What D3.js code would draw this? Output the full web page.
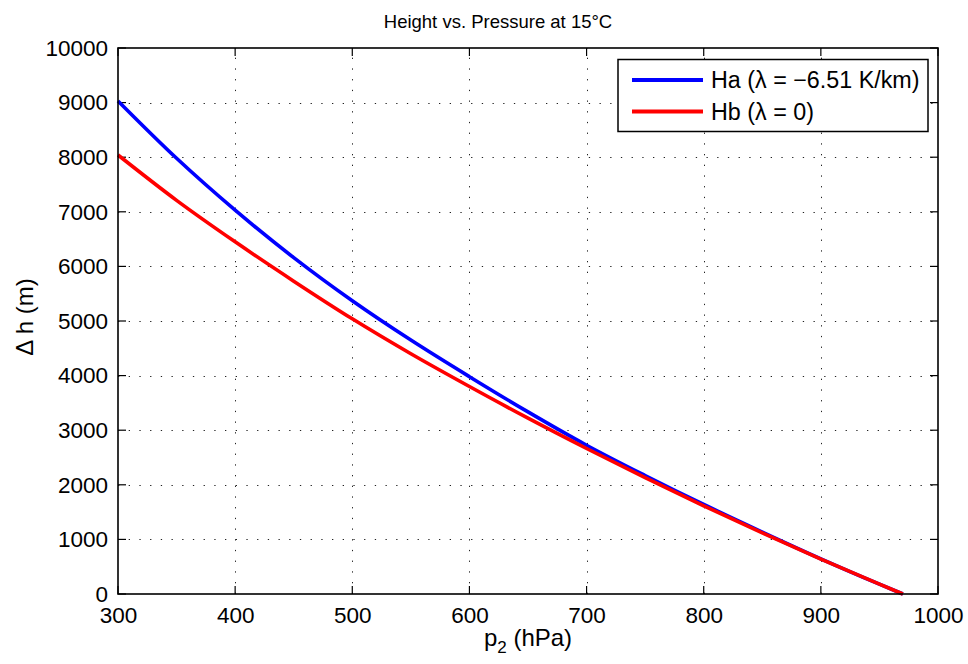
<!DOCTYPE html>
<html>
<head>
<meta charset="utf-8">
<script src="https://cdn.jsdelivr.net/npm/d3@7"></script>
<style>
body{margin:0;background:#fff;}
svg{display:block;font-family:"Liberation Sans",Arial,Helvetica,sans-serif;}
</style>
</head>
<body>
<svg id="chart" width="968" height="664"></svg>
<script>
const pressure = [300,350,400,450,500,550,600,650,700,750,800,850,900,950,970];
const haValues = [9030,7980,7030,6160,5370,4650,3980,3335,2725,2170,1640,1135,645,180,0];
const hbValues = [8040,7210,6450,5730,5040,4400,3800,3220,2665,2130,1615,1120,640,180,0];
const xTicks = [300,400,500,600,700,800,900,1000];
const yTicks = [0,1000,2000,3000,4000,5000,6000,7000,8000,9000,10000];
const seriesNames = ["Ha (\u03BB = \u22126.51 K/km)", "Hb (\u03BB = 0)"];
const seriesColors = ["#0000ff", "#ff0000"];

const svg = d3.select("#chart");
const L = 118, R = 938, T = 48, B = 594;
const x = d3.scaleLinear().domain([300,1000]).range([L,R]);
const y = d3.scaleLinear().domain([0,10000]).range([B,T]);

svg.append("rect").attr("x",0).attr("y",0).attr("width",968).attr("height",664).attr("fill","#fff");

// grid
const grid = svg.append("g").attr("stroke","#222").attr("stroke-width",1).attr("stroke-dasharray","1.3,9.4");
grid.selectAll(".gx").data(xTicks.slice(1,-1)).enter().append("line")
  .attr("x1",d=>Math.round(x(d))+0.5).attr("x2",d=>Math.round(x(d))+0.5).attr("y1",B).attr("y2",T);
grid.selectAll(".gy").data(yTicks.slice(1,-1)).enter().append("line")
  .attr("y1",d=>Math.round(y(d))+0.5).attr("y2",d=>Math.round(y(d))+0.5).attr("x1",L).attr("x2",R);

// axes
const fs = 22.5;
const xAxis = d3.axisBottom(x).tickValues(xTicks).tickSize(0).tickPadding(0).tickFormat(d3.format("d"));
const yAxis = d3.axisLeft(y).tickValues(yTicks).tickSize(0).tickPadding(10).tickFormat(d3.format("d"));
const gx = svg.append("g").attr("transform",`translate(0,${B})`).call(xAxis);
const gy = svg.append("g").attr("transform",`translate(${L},0)`).call(yAxis);
[gx,gy].forEach(g=>{
  g.select(".domain").remove();
  g.selectAll("text").attr("font-size",fs).attr("fill","#000").attr("font-family","Liberation Sans, Arial, sans-serif");
});
gx.selectAll("text").attr("y",29).attr("dy",0);

// inward ticks on all four sides
const tk = svg.append("g").attr("stroke","#000").attr("stroke-width",1.2);
xTicks.forEach(d=>{
  const xx = x(d);
  tk.append("line").attr("x1",xx).attr("x2",xx).attr("y1",B).attr("y2",B-8);
  tk.append("line").attr("x1",xx).attr("x2",xx).attr("y1",T).attr("y2",T+8);
});
yTicks.forEach(d=>{
  const yy = y(d);
  tk.append("line").attr("x1",L).attr("x2",L+8).attr("y1",yy).attr("y2",yy);
  tk.append("line").attr("x1",R).attr("x2",R-8).attr("y1",yy).attr("y2",yy);
});

// curves
const lineGen = d3.line().x((d,i)=>x(pressure[i])).y(d=>y(d)).curve(d3.curveMonotoneX);
const plot = svg.append("g");
plot.append("path").datum(haValues).attr("d",lineGen).attr("fill","none")
  .attr("stroke",seriesColors[0]).attr("stroke-width",3.6);
plot.append("path").datum(hbValues).attr("d",lineGen).attr("fill","none")
  .attr("stroke",seriesColors[1]).attr("stroke-width",3.6);

// frame
svg.append("rect").attr("x",L).attr("y",T).attr("width",R-L).attr("height",B-T)
  .attr("fill","none").attr("stroke","#000").attr("stroke-width",1.6);

// title
svg.append("text").attr("x",498).attr("y",28).attr("text-anchor","middle")
  .attr("font-size",18.5).text("Height vs. Pressure at 15\u00B0C");

// x label
const xl = svg.append("text").attr("x",528).attr("y",646).attr("text-anchor","middle").attr("font-size",24);
xl.append("tspan").text("p");
xl.append("tspan").attr("font-size",17).attr("dy",7).text("2");
xl.append("tspan").attr("dy",-7).text(" (hPa)");

// y label
svg.append("text").attr("transform","translate(33,317) rotate(-90)").attr("text-anchor","middle")
  .attr("font-size",24).text("\u0394 h (m)");

// legend
const lg = svg.append("g");
lg.append("rect").attr("x",618).attr("y",59.5).attr("width",310).attr("height",72)
  .attr("fill","#fff").attr("stroke","#000").attr("stroke-width",1.5);
const rows = [80, 111.5];
seriesNames.forEach((nm,i)=>{
  lg.append("line").attr("x1",632).attr("x2",703).attr("y1",rows[i]).attr("y2",rows[i])
    .attr("stroke",seriesColors[i]).attr("stroke-width",4);
  lg.append("text").attr("x",711).attr("y",rows[i]+8.3).attr("font-size",23.3).text(nm);
});
</script>
</body>
</html>
